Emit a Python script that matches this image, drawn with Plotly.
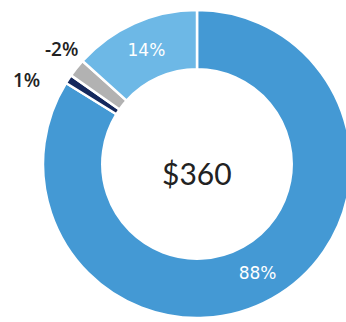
import plotly.graph_objects as go

categories = ["A", "B", "C", "D"]
pct_values = [88, 1, -2, 14]
slice_colors = ["#4499d4", "#14285c", "#b2b2b2", "#6db8e6"]
center_label = "$360"

sizes = [abs(v) for v in pct_values]
labels_txt = [f"{v}%" for v in pct_values]
inside_text = [t if abs(v) >= 5 else "" for t, v in zip(labels_txt, pct_values)]

W, H = 354, 322
fig = go.Figure(go.Pie(
    labels=categories,
    values=sizes,
    text=inside_text,
    textinfo="text",
    textposition="inside",
    insidetextorientation="horizontal",
    textfont=dict(family="DejaVu Sans", size=17, color="white"),
    marker=dict(colors=slice_colors, line=dict(color="white", width=2.5)),
    hole=0.615,
    sort=False,
    direction="clockwise",
    rotation=0,
    domain=dict(x=[42 / W, 352 / W], y=[1 - 318 / H, 1 - 10 / H]),
    showlegend=False,
    hoverinfo="skip",
))

fig.add_annotation(text=center_label, x=196.5 / W, y=1 - 173 / H, xref="paper", yref="paper",
                   xanchor="center", yanchor="middle",
                   showarrow=False, font=dict(family="Lato", size=30, color="#222222"))
# outside labels for small slices
small_pos = {1: (26, 80), 2: (61, 49)}
for i, (px, py) in small_pos.items():
    fig.add_annotation(text=labels_txt[i], x=px / W, y=1 - py / H, xref="paper", yref="paper",
                       xanchor="center", yanchor="middle",
                       showarrow=False, font=dict(family="Open Sans", size=19, weight=600, color="#222222"))

fig.update_layout(width=W, height=H, margin=dict(l=0, r=0, t=0, b=0),
                  paper_bgcolor="white", plot_bgcolor="white")

fig.write_html("out.html",
               post_script="document.body.style.overflow='hidden';document.documentElement.style.overflow='hidden';document.body.style.margin='0';")
